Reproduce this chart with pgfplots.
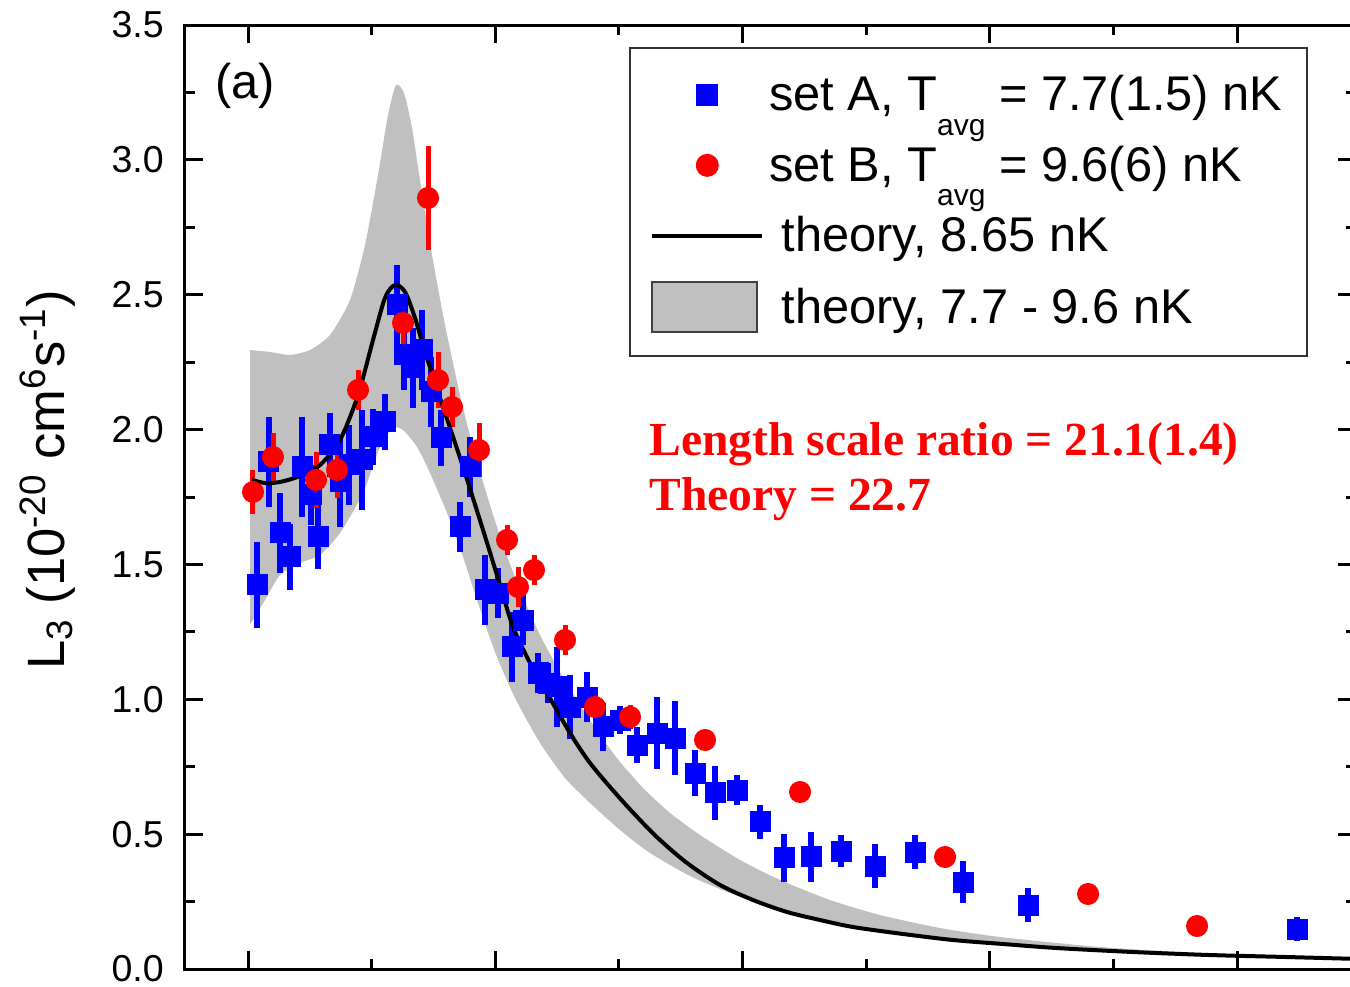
\documentclass[border=0pt]{standalone}
\usepackage{fontspec}
\setmainfont{Liberation Sans}
\newfontfamily\timesfont{Liberation Serif}
\usepackage{pgfplots}
\usepackage{pgfplotstable}
\pgfplotsset{compat=1.18}
\definecolor{bandgray}{RGB}{192,192,192}

\pgfplotstableread{
x y ey
0.0364 1.4238 0.159
0.0849 1.8799 0.167
0.1294 1.6166 0.148
0.1699 1.5276 0.122
0.2184 1.8613 0.185
0.2548 1.7575 0.111
0.2831 1.6018 0.119
0.3316 1.9429 0.119
0.3721 1.8057 0.167
0.4085 1.8688 0.148
0.4611 1.8873 0.185
0.5056 1.9726 0.104
0.5541 2.0282 0.104
0.6026 2.4620 0.148
0.6309 2.2766 0.130
0.6673 2.2284 0.148
0.7037 2.2951 0.148
0.7401 2.1394 0.130
0.7806 1.9688 0.104
0.8574 1.6389 0.093
0.8979 1.8613 0.111
0.9585 1.4053 0.130
1.0111 1.3941 0.093
1.0677 1.1939 0.130
1.1122 1.2940 0.093
1.1729 1.0975 0.074
1.2133 1.0604 0.074
1.2497 1.0456 0.148
1.3023 0.9714 0.119
1.3711 1.0085 0.093
1.4358 0.8973 0.089
1.5045 0.9232 0.052
1.5733 0.8305 0.067
1.6542 0.8750 0.133
1.7270 0.8565 0.137
1.8079 0.7267 0.085
1.8888 0.6526 0.100
1.9778 0.6637 0.056
2.0708 0.5451 0.063
2.1678 0.4116 0.089
2.2770 0.4153 0.093
2.3984 0.4375 0.059
2.5359 0.3819 0.082
2.6977 0.4338 0.063
2.8918 0.3226 0.078
3.1547 0.2373 0.063
4.2427 0.1483 0.044
}\setA

\pgfplotstableread{
x y ey
0.0202 1.7686 0.082
0.1011 1.8984 0.089
0.2750 1.8131 0.104
0.3600 1.8502 0.104
0.4449 2.1468 0.074
0.6269 2.3953 0.082
0.7280 2.8587 0.193
0.7684 2.1839 0.104
0.8251 2.0838 0.074
0.9343 1.9244 0.100
1.0475 1.5907 0.056
1.0920 1.4164 0.074
1.1567 1.4794 0.056
1.2821 1.2199 0.056
1.4034 0.9714 0.048
1.5450 0.9344 0.044
1.8483 0.8491 0.037
2.2325 0.6563 0.037
2.8190 0.4153 0.037
3.3974 0.2781 0.037
3.8382 0.1594 0.037
}\setB

\pgfplotstableread{
x y
0.0162 1.8131
0.0688 1.8020
0.1294 1.8057
0.2103 1.8280
0.2912 1.8687
0.3721 1.9614
0.4449 2.1283
0.5056 2.3322
0.5541 2.4880
0.5945 2.5362
0.6350 2.5102
0.6754 2.4138
0.7159 2.2877
0.7887 2.0838
0.8696 1.8613
0.9505 1.6277
1.0192 1.4238
1.0718 1.2681
1.1405 1.1346
1.2093 1.0234
1.3023 0.8750
1.3832 0.7638
1.4924 0.6452
1.5854 0.5525
1.6663 0.4783
1.7755 0.3930
1.9090 0.3115
2.0425 0.2558
2.1800 0.2113
2.3134 0.1817
2.4469 0.1557
2.6491 0.1298
2.8514 0.1075
3.0536 0.0927
3.2680 0.0779
3.5794 0.0630
3.8868 0.0519
4.1982 0.0445
4.4975 0.0371
}\theory

\pgfplotstableread{
x y
0.0081 2.2951
0.0890 2.2877
0.1699 2.2766
0.2508 2.2951
0.3316 2.3508
0.4125 2.4805
0.4732 2.6845
0.5258 2.9440
0.5662 3.1665
0.5986 3.2777
0.6309 3.2481
0.6633 3.1183
0.6956 2.9255
0.7442 2.6474
0.7968 2.3879
0.8574 2.1283
0.9181 1.9058
0.9788 1.7204
1.0313 1.5721
1.1001 1.4053
1.1810 1.2384
1.2619 1.1012
1.3428 0.9789
1.4236 0.8676
1.5045 0.7675
1.6057 0.6637
1.7068 0.5784
1.8281 0.4968
1.9899 0.4042
2.1517 0.3300
2.3539 0.2558
2.5561 0.2002
2.7988 0.1520
3.0415 0.1187
3.4459 0.0816
3.8504 0.0593
4.2548 0.0482
4.4975 0.0408
4.4975 0.0334
4.2548 0.0408
3.8504 0.0482
3.4459 0.0667
3.0415 0.0890
2.6370 0.1261
2.3539 0.1706
2.1517 0.2188
1.9494 0.2818
1.7876 0.3448
1.6259 0.4301
1.5045 0.5154
1.3832 0.6155
1.2821 0.7082
1.1810 0.8380
1.0799 1.0048
0.9990 1.1754
0.9262 1.3682
0.8696 1.5276
0.8049 1.6908
0.7361 1.8391
0.6835 1.9355
0.6269 1.9985
0.5864 2.0059
0.5339 1.9355
0.4651 1.7649
0.3721 1.6166
0.2912 1.5350
0.2103 1.5054
0.1294 1.4609
0.0688 1.3682
0.0081 1.2755
}\band

\begin{document}
\begin{tikzpicture}
\begin{axis}[
  scale only axis, width=468.4pt, height=377.6pt,
  xmin=-0.2548, xmax=4.481, ymin=0, ymax=3.5,
  axis line style={line width=1.2pt},
  every tick/.style={line width=1.2pt, black},
  tick align=inside,
  major tick length=7.2pt, minor tick length=4pt,
  xtick={0,1,2,3,4}, minor xtick={0.5,1.5,2.5,3.5},
  xticklabels={},
  ytick={0,0.5,1,1.5,2,2.5,3,3.5},
  minor ytick={0.25,0.75,1.25,1.75,2.25,2.75,3.25},
  /pgf/number format/fixed,
  /pgf/number format/fixed zerofill,
  /pgf/number format/precision=1,
  /pgf/number format/assume math mode=true,
  yticklabel style={font=\fontsize{15}{18}\selectfont, xshift=-5pt},
  ylabel={L\textsubscript{3} (10\textsuperscript{-20} cm\textsuperscript{6}s\textsuperscript{-1})},
  every axis y label/.style={at={(axis description cs:-0.117,0.518)}, anchor=center, rotate=90, font=\fontsize{21}{25}\selectfont},
  legend style={at={(0.3794,0.9767)}, anchor=north west, draw=black!80, line width=0.8pt,
    font=\fontsize{19.5}{23}\selectfont, inner xsep=8pt, inner ysep=9pt, row sep=8.5pt},
  legend cell align=left,
]
\addplot[fill=bandgray, draw=none, smooth, tension=0.4, forget plot] table[x=x, y=y] {\band};

\addplot[only marks, mark=square*, mark size=4pt, color=blue, mark options={draw=blue, fill=blue},
  legend image code/.code={\draw[mark repeat=2,mark phase=2] plot coordinates {(0pt,0pt) (22pt,0pt) (44pt,0pt)};},
  error bars/.cd, y dir=both, y explicit, error mark=none,
  error bar style={line width=2.4pt, blue}]
  table[x=x, y=y, y error=ey] {\setA};
\addlegendentry{set A, T\raisebox{-0.5em}{\fontsize{12}{12}\selectfont avg} = 7.7(1.5) nK}

\addplot[only marks, mark=*, mark size=4.2pt, color=red, mark options={draw=red, fill=red},
  legend image code/.code={\draw[mark repeat=2,mark phase=2] plot coordinates {(0pt,0pt) (22pt,0pt) (44pt,0pt)};},
  error bars/.cd, y dir=both, y explicit, error mark=none,
  error bar style={line width=2pt, red}]
  table[x=x, y=y, y error=ey] {\setB};
\addlegendentry{set B, T\raisebox{-0.5em}{\fontsize{12}{12}\selectfont avg} = 9.6(6) nK}

\addplot[black, line width=1.6pt, smooth, no marks,
  legend image code/.code={\draw[line width=1.6pt] (0pt,0pt) -- (44pt,0pt);}]
  table[x=x, y=y] {\theory};
\addlegendentry{\hspace{5pt}theory, 8.65 nK}

\addlegendimage{legend image code/.code={\draw[fill=bandgray, draw=black!75, line width=0.8pt] (0pt,-10pt) rectangle (42pt,10pt);}}
\addlegendentry{\hspace{5pt}theory, 7.7 - 9.6 nK}

\node[anchor=west, inner sep=0pt, font=\fontsize{19.5}{23}\selectfont] at (axis description cs:0.0256,0.936) {(a)};
\node[anchor=base west, inner sep=0pt, text=red, font={\timesfont\bfseries\fontsize{19}{23}\selectfont}] at (axis description cs:0.3964,0.5445) {Length scale ratio = 21.1(1.4)};
\node[anchor=base west, inner sep=0pt, text=red, font={\timesfont\bfseries\fontsize{19}{23}\selectfont}] at (axis description cs:0.3964,0.486) {Theory = 22.7};
\end{axis}
\pgfresetboundingbox
\path[use as bounding box] (-74pt,-6.8pt) rectangle (466pt,387.6pt);
\end{tikzpicture}
\end{document}
